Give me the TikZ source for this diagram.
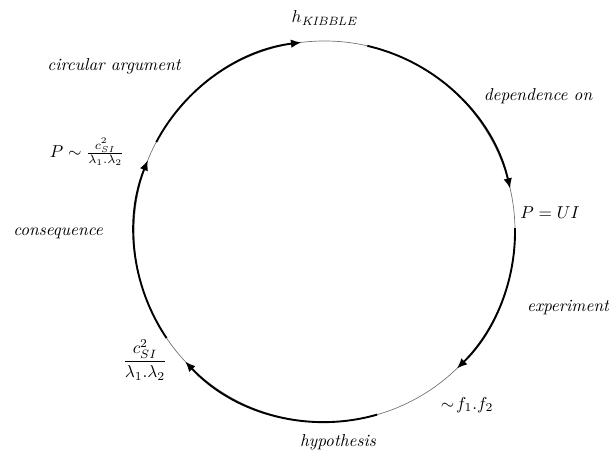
\documentclass[tikz,border=0pt]{standalone}
\usepackage{amsmath,amssymb}
\usepackage{tikz}
\usetikzlibrary{arrows.meta,calc}

\tikzset{
  ring/.style={draw=black!55,line width=0.4pt},
  flow/.style={->,line width=1.1pt},
  lbl/.style={font=\itshape,inner sep=1pt}
}
\newcommand{\Rad}{110.5pt}

\begin{document}
\begin{tikzpicture}[>={Latex[length=6pt,width=5pt]},x=0.58pt,y=0.58pt]
  \useasboundingbox (0,0) rectangle (609,450);
  \coordinate (c) at (324.5,218.5);
  \draw[ring] (c) circle[radius=\Rad];
  % arc end points
  \coordinate (a1) at ($(c)+(152:\Rad)$);
  \coordinate (a2) at ($(c)+(77:\Rad)$);
  \coordinate (a3) at ($(c)+(1:\Rad)$);
  \coordinate (a4) at ($(c)+(-74:\Rad)$);
  \coordinate (a5) at ($(c)+(-146:\Rad)$);
  \draw[flow] (a1) arc[start angle=152,end angle=97,radius=\Rad];
  \draw[flow] (a2) arc[start angle=77,end angle=13,radius=\Rad];
  \draw[flow] (a3) arc[start angle=1,end angle=-46,radius=\Rad];
  \draw[flow] (a4) arc[start angle=-74,end angle=-137,radius=\Rad];
  \draw[flow] (a5) arc[start angle=-146,end angle=-202,radius=\Rad];
  % labels
  \node (kibble) at (325,432) {$h_{\mathit{KIBBLE}}$};
  \node[lbl] (circ) at (114,384) {circular argument};
  \node[lbl] (dep) at (538,354) {dependence on};
  \node (pui) at (550,237) {$P=UI$};
  \node[lbl] (exp) at (568,142) {experiment};
  \node (ff) at (467,45) {$\sim\!f_1.f_2$};
  \node[lbl] (hyp) at (338,8) {hypothesis};
  \node (frac) at (145,90) {$\dfrac{c_{SI}^2}{\lambda_1.\lambda_2}$};
  \node[lbl] (cons) at (58,217) {consequence};
  \node (psim) at (87,298) {$P\sim\frac{c_{SI}^2}{\lambda_1.\lambda_2}$};
\end{tikzpicture}
\end{document}
